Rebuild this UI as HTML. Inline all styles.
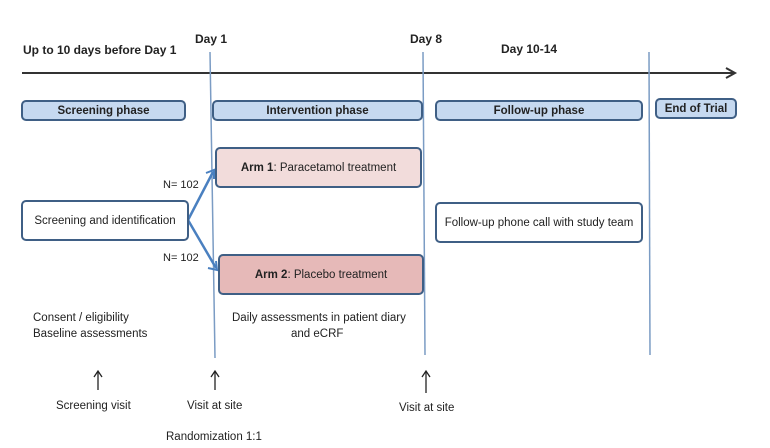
<!DOCTYPE html>
<html><head><style>
body{margin:0;width:770px;height:448px;background:#fff;position:relative;overflow:hidden;font-family:"Liberation Sans",sans-serif;color:#222}
.t{position:absolute;white-space:nowrap;font-size:12px}
.b{font-weight:bold}
.box{position:absolute;box-sizing:border-box;border:2px solid #3f5f85;border-radius:5px;display:flex;align-items:center;justify-content:center;font-size:11.5px}
.ph{background:#c6d9f0;font-weight:bold}
</style></head><body>
<svg width="770" height="448" style="position:absolute;left:0;top:0">
<line x1="22" y1="73" x2="733" y2="73" stroke="#333" stroke-width="2"/>
<path d="M726 68 L735 73 L726 78" fill="none" stroke="#333" stroke-width="2"/>
<line x1="210" y1="52" x2="215" y2="358" stroke="#7b9cc4" stroke-width="1.5"/>
<line x1="423" y1="52" x2="425" y2="355" stroke="#7b9cc4" stroke-width="1.5"/>
<line x1="649" y1="52" x2="650" y2="355" stroke="#7b9cc4" stroke-width="1.5"/>
<line x1="188" y1="220" x2="213" y2="172" stroke="#4a80c0" stroke-width="2.5"/>
<line x1="188" y1="220" x2="216" y2="268" stroke="#4a80c0" stroke-width="2.5"/>
<path d="M206 173 L214 170 L214 179" fill="none" stroke="#4a80c0" stroke-width="2"/>
<path d="M208 268 L217 270 L216 261" fill="none" stroke="#4a80c0" stroke-width="2"/>
<g stroke="#222" stroke-width="1.3" fill="none">
<line x1="98" y1="390" x2="98" y2="372"/><path d="M94 377 L98 371 L102 377"/>
<line x1="215" y1="390" x2="215" y2="372"/><path d="M211 377 L215 371 L219 377"/>
<line x1="426" y1="393" x2="426" y2="372"/><path d="M422 377 L426 371 L430 377"/>
</g>
</svg>
<div class="t b" style="left:23px;top:43px">Up to 10 days before Day 1</div>
<div class="t b" style="left:195px;top:32px">Day 1</div>
<div class="t b" style="left:410px;top:32px">Day 8</div>
<div class="t b" style="left:501px;top:42px">Day 10-14</div>
<div class="box ph" style="left:21px;top:100px;width:165px;height:21px">Screening phase</div>
<div class="box ph" style="left:212px;top:100px;width:211px;height:21px">Intervention phase</div>
<div class="box ph" style="left:435px;top:100px;width:208px;height:21px">Follow-up phase</div>
<div class="box ph" style="left:655px;top:98px;width:82px;height:21px">End of Trial</div>
<div class="box" style="left:215px;top:147px;width:207px;height:41px;background:#f2dcdb"><b>Arm 1</b>: Paracetamol treatment</div>
<div class="box" style="left:218px;top:254px;width:206px;height:41px;background:#e6b9b8"><b>Arm 2</b>: Placebo treatment</div>
<div class="box" style="left:21px;top:200px;width:168px;height:41px;background:#fff">Screening and identification</div>
<div class="box" style="left:435px;top:202px;width:208px;height:41px;background:#fff">Follow-up phone call with study team</div>
<div class="t" style="left:163px;top:179px;font-size:11px">N= 102</div>
<div class="t" style="left:163px;top:252px;font-size:11px">N= 102</div>
<div class="t" style="left:33px;top:312px;font-size:11.5px">Consent / eligibility</div>
<div class="t" style="left:33px;top:328px;font-size:11.5px">Baseline assessments</div>
<div class="t" style="left:232px;top:312px;font-size:11.5px">Daily assessments in patient diary</div>
<div class="t" style="left:291px;top:328px;font-size:11.5px">and eCRF</div>
<div class="t" style="left:56px;top:400px;font-size:11.5px">Screening visit</div>
<div class="t" style="left:187px;top:400px;font-size:11.5px">Visit at site</div>
<div class="t" style="left:399px;top:402px;font-size:11.5px">Visit at site</div>
<div class="t" style="left:166px;top:431px;font-size:11.5px">Randomization 1:1</div>
</body></html>
